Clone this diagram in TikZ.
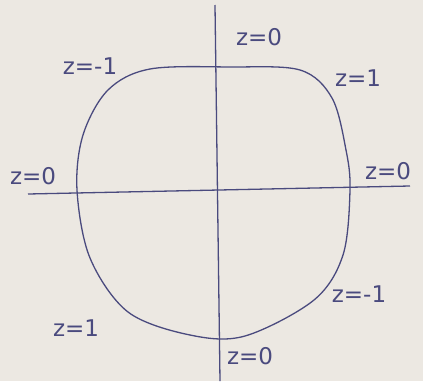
\documentclass[tikz,border=0pt]{standalone}
\usepackage{fontspec}
\setmainfont{DejaVu Sans}
\definecolor{ink}{HTML}{4A4A7E}
\definecolor{paper}{HTML}{ECE8E2}
\begin{document}
\begin{tikzpicture}[x=1pt,y=-1pt,
  lbl/.style={text=ink,font=\fontsize{23}{25}\selectfont,inner sep=0pt},
  pen/.style={draw=ink,line width=1.3pt}]
\fill[paper] (0,0) rectangle (423,381);
\useasboundingbox (0,0) rectangle (423,381);
% axes
\coordinate (vt) at (215,5);
\coordinate (vb) at (220,381);
\coordinate (hl) at (28,194);
\coordinate (hr) at (410,186);
\draw[pen] (vt) -- (vb);
\draw[pen] (hl) -- (hr);
% closed curve
\draw[pen] plot[smooth cycle,tension=0.55] coordinates {
 (230,67) (300,70) (332,98) (346,150) (350,190) (343,255) (314,300)
 (245,336) (190,335) (128,312) (90,258) (77,190) (83,135) (108,90) (150,69)};
% labels
\node[lbl] (a) at (90,66) {z=-1};
\node[lbl] (b) at (259,37) {z=0};
\node[lbl] (c) at (358,78) {z=1};
\node[lbl] (d) at (33,176) {z=0};
\node[lbl] (e) at (388,171) {z=0};
\node[lbl] (f) at (359,294) {z=-1};
\node[lbl] (g) at (76,328) {z=1};
\node[lbl] (h) at (250,356) {z=0};
\end{tikzpicture}
\end{document}
